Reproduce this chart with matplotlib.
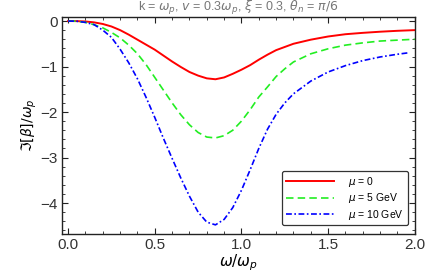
import matplotlib
matplotlib.use('Agg')
import matplotlib.pyplot as plt
from matplotlib.ticker import MultipleLocator

# values
x_vals = [0.0, 0.05, 0.1, 0.15, 0.2, 0.25, 0.3, 0.35, 0.4, 0.45, 0.5, 0.55, 0.6, 0.65,
          0.7, 0.75, 0.8, 0.85, 0.9, 0.95, 1.0, 1.05, 1.1, 1.15, 1.2, 1.25, 1.3, 1.4,
          1.5, 1.6, 1.7, 1.8, 1.9, 2.0]

im_mu0 = [0.0, -0.002, -0.01, -0.03, -0.065, -0.12, -0.2, -0.3, -0.41, -0.52, -0.63,
          -0.76, -0.89, -1.01, -1.12, -1.2, -1.26, -1.28, -1.24, -1.16, -1.07, -0.97,
          -0.85, -0.74, -0.64, -0.57, -0.5, -0.41, -0.34, -0.29, -0.26, -0.235, -0.215, -0.2]

im_mu5 = [0.0, -0.005, -0.03, -0.08, -0.15, -0.25, -0.37, -0.53, -0.72, -0.96, -1.24,
          -1.52, -1.8, -2.06, -2.28, -2.45, -2.55, -2.57, -2.52, -2.4, -2.2, -1.95,
          -1.67, -1.45, -1.22, -1.05, -0.9, -0.72, -0.61, -0.53, -0.48, -0.44, -0.42, -0.4]

x_mu10 = x_vals[:-1] + [1.96]
im_mu10 = [0.0, -0.005, -0.03, -0.08, -0.2, -0.36, -0.62, -0.92, -1.27, -1.68, -2.12,
           -2.58, -3.02, -3.45, -3.85, -4.2, -4.42, -4.48, -4.36, -4.1, -3.72, -3.27,
           -2.8, -2.38, -2.05, -1.8, -1.6, -1.32, -1.12, -0.98, -0.87, -0.79, -0.73, -0.7]

plt.rcParams['font.family'] = ['Liberation Sans', 'DejaVu Sans']
plt.rcParams['mathtext.fontset'] = 'dejavusans'

fig = plt.figure(figsize=(4.25, 2.73), dpi=100)
ax = fig.add_axes([0.146, 0.143, 0.830, 0.795])

ax.plot(x_vals, im_mu0, color='#ff0000', lw=1.4, ls='-', label=r'$\mu$ = 0')
ax.plot(x_vals, im_mu5, color='#22ee22', lw=1.2, ls=(0, (4.5, 2.5)), label=r'$\mu$ = 5 GeV')
ax.plot(x_mu10, im_mu10, color='#0000ff', lw=1.2, ls=(0, (3.5, 1.5, 1, 1.5)),
        label=r'$\mu$ = 10 GeV')

ax.set_xlim(-0.035, 2.0)
ax.set_ylim(-4.68, 0.09)
ax.xaxis.set_major_locator(MultipleLocator(0.5))
ax.xaxis.set_minor_locator(MultipleLocator(0.1))
ax.yaxis.set_major_locator(MultipleLocator(1))
ax.yaxis.set_minor_locator(MultipleLocator(0.2))
ax.xaxis.set_major_formatter(matplotlib.ticker.FormatStrFormatter('%.1f'))
ax.tick_params(which='both', direction='in', top=True, right=True, labelsize=11,
               labelcolor='#333333', color='#222222')
ax.tick_params(which='major', length=4, width=0.8, pad=3)
ax.tick_params(which='minor', length=2, width=0.6)
for sp in ax.spines.values():
    sp.set_linewidth(1.0)
    sp.set_color('#222222')

ax.set_xlabel(r'$\omega/\omega_p$', fontsize=11, labelpad=0)
ax.set_ylabel(r'$\Im[\beta]/\omega_p$', fontsize=10, labelpad=1)
ax.set_title(r'k = $\omega_p$, $v$ = 0.3$\omega_p$, $\xi$ = 0.3, $\theta_n$ = $\pi/6$',
             fontsize=9, color='#777777', pad=2)

leg = ax.legend(loc='lower right', fontsize=7.5, frameon=True, fancybox=True,
                edgecolor='#333333', framealpha=1, handlelength=4.6, handletextpad=1.4,
                borderpad=0.35, labelspacing=0.25, bbox_to_anchor=(0.995, 0.015))
leg.get_frame().set_linewidth(0.9)

fig.savefig('out.png', dpi=100)
